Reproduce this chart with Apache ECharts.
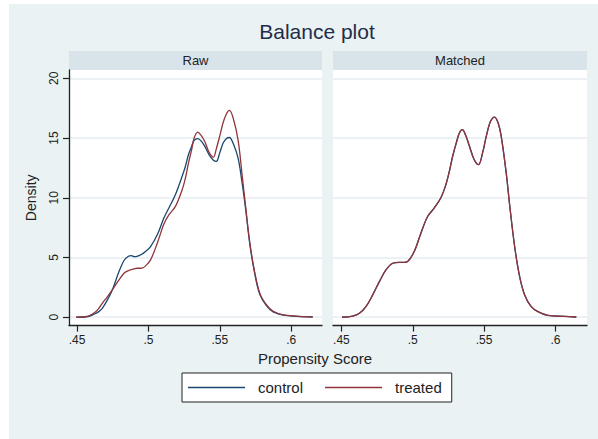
<!DOCTYPE html>
<html>
<head>
<meta charset="utf-8">
<script src="https://cdn.jsdelivr.net/npm/echarts@6/dist/echarts.min.js"></script>
<style>html,body{margin:0;padding:0;background:#fff}#c{width:598px;height:439px}</style>
</head>
<body>
<div id="c"></div>
<script>
// ---- data ----
const panelNames = ['Raw', 'Matched'];
const seriesNames = ['control', 'treated'];
const xTicks = [0.45, 0.5, 0.55, 0.6];
const xTickLabels = ['.45', '.5', '.55', '.6'];
const yTicks = [0, 5, 10, 15, 20];

const rawX = [0.4495,0.4550,0.4584,0.4619,0.4650,0.4677,0.4715,0.4747,0.4794,0.4829,0.4860,0.4880,0.4900,0.4920,0.4950,0.4980,0.5015,0.5062,0.5108,0.5143,0.5190,0.5236,0.5258,0.5280,0.5302,0.5320,0.5345,0.5370,0.5395,0.5425,0.5455,0.5475,0.5500,0.5523,0.5545,0.5567,0.5595,0.5628,0.5655,0.5680,0.5710,0.5745,0.5780,0.5827,0.5873,0.5943,0.6036,0.6150];
const rawControl = [0,0.02,0.08,0.25,0.45,0.75,1.5,2.29,3.82,4.75,5.1,5.16,5.08,5.1,5.25,5.5,5.92,6.9,8.3,9.14,10.3,11.8,12.6,13.6,14.3,14.8,14.95,14.75,14.3,13.6,13.15,13.05,13.8,14.58,14.95,15.05,14.5,13.3,11.3,9.1,6.1,3.6,1.9,0.95,0.45,0.18,0.08,0.02];
const rawTreated = [0,0.04,0.12,0.35,0.7,1.17,1.75,2.29,3.13,3.69,3.9,3.98,4.05,4.1,4.1,4.3,4.8,6.2,7.8,8.57,9.3,10.67,11.6,12.9,14.0,15.0,15.5,15.2,14.7,13.8,13.4,14.1,15.2,16.3,17.0,17.32,16.6,14.8,12.0,9.3,6.2,3.7,2.0,1.03,0.5,0.2,0.1,0.03];

const matchedX = [0.4504,0.4579,0.4626,0.4672,0.4719,0.4766,0.4812,0.4859,0.4906,0.4940,0.4964,0.5010,0.5057,0.5104,0.5150,0.5197,0.5232,0.5258,0.5280,0.5305,0.5326,0.5347,0.5372,0.5398,0.5430,0.5461,0.5490,0.5515,0.5545,0.5574,0.5600,0.5620,0.5655,0.5679,0.5714,0.5749,0.5784,0.5830,0.5877,0.5947,0.6064,0.6146];
const matchedControl = [0,0.1,0.33,0.89,1.87,2.98,3.96,4.52,4.6,4.6,4.66,5.5,7.04,8.43,9.14,10.0,11.1,12.3,13.5,14.6,15.4,15.7,15.2,14.3,13.2,12.77,13.8,15.14,16.4,16.76,16.2,15.14,12.07,9.4,5.92,3.4,1.87,0.89,0.47,0.15,0.07,0.02];
const matchedTreated = [0,0.1,0.33,0.89,1.87,2.98,3.96,4.52,4.6,4.6,4.66,5.5,7.04,8.43,9.14,10.0,11.1,12.3,13.5,14.6,15.4,15.7,15.2,14.3,13.2,12.77,13.8,15.14,16.4,16.76,16.2,15.14,12.07,9.4,5.92,3.4,1.87,0.89,0.47,0.15,0.07,0.02];

// ---- styling ----
const FONT = '"Liberation Sans", Arial, sans-serif';
const BG = '#eaf2f3';
const STRIP = '#d8e4ea';
const GRIDC = '#e4edf0';
const colors = ['#1a476f', '#90353b'];

const zip = (xs, ys) => xs.map((x, i) => [x, ys[i]]);

const grids = [
  {left: 69, right: 276, top: 70, bottom: 113.4},
  {left: 333, right: 11, top: 70, bottom: 113.4}
];

const xRanges = [[0.4444, 0.6215], [0.4441, 0.6221]];

function xAxis(i) {
  return {
    type: 'value', gridIndex: i, min: xRanges[i][0], max: xRanges[i][1],
    axisLine: {show: true, onZero: false, lineStyle: {color: '#222', width: 1.3}},
    axisTick: {show: true, length: 6, customValues: xTicks, lineStyle: {color: '#222', width: 1.2}},
    axisLabel: {customValues: xTicks, margin: 8, color: '#222', fontSize: 12, fontFamily: FONT,
      formatter: v => xTickLabels[xTicks.findIndex(t => Math.abs(t - v) < 1e-9)] || ''},
    splitLine: {show: false}
  };
}
function yAxis(i) {
  return {
    type: 'value', gridIndex: i, min: -0.7, max: 20.7,
    name: i === 0 ? 'Density' : '', nameLocation: 'middle', nameGap: 31, nameRotate: 90,
    nameTextStyle: {color: '#222', fontSize: 14, fontFamily: FONT},
    axisLine: {show: i === 0, onZero: false, lineStyle: {color: '#222', width: 1.3}},
    axisTick: {show: i === 0, length: 6, customValues: yTicks, lineStyle: {color: '#222', width: 1.2}},
    axisLabel: {show: i === 0, customValues: yTicks, rotate: 90, margin: 9, color: '#222', fontSize: 12, fontFamily: FONT},
    splitLine: {show: true, lineStyle: {color: GRIDC, width: 1.5}}
  };
}

const panelData = [[rawX, rawControl, rawTreated], [matchedX, matchedControl, matchedTreated]];
const series = [];
panelData.forEach((p, i) => {
  [p[1], p[2]].forEach((ys, k) => {
    series.push({
      name: seriesNames[k], type: 'line', xAxisIndex: i, yAxisIndex: i,
      data: zip(p[0], ys), smooth: 0.35, showSymbol: false, symbol: 'none',
      lineStyle: {color: colors[k], width: 1.3}, itemStyle: {color: colors[k]},
      z: 2 + k, silent: true, animation: false
    });
  });
});

const chart = echarts.init(document.getElementById('c'), null, {renderer: 'svg'});
chart.setOption({
  backgroundColor: '#ffffff',
  animation: false,
  title: [
    {text: 'Balance plot', left: 312, top: 16, textAlign: 'center',
     textStyle: {color: '#1f2d4a', fontSize: 21, fontWeight: 'normal', fontFamily: FONT}},
    {text: 'Propensity Score', left: 315, top: 351, textAlign: 'center', padding: 0,
     textStyle: {color: '#222', fontSize: 15, fontWeight: 'normal', fontFamily: FONT}}
  ],
  graphic: [
    {type: 'rect', z: -10, silent: true, shape: {x: 9, y: 4, width: 589, height: 435}, style: {fill: BG}},
    {type: 'rect', z: -5, silent: true, shape: {x: 69, y: 51, width: 253, height: 19}, style: {fill: STRIP}},
    {type: 'rect', z: -5, silent: true, shape: {x: 333, y: 51, width: 254, height: 19}, style: {fill: STRIP}},
    {type: 'text', silent: true, x: 195.5, y: 60.5, style: {text: panelNames[0], fill: '#222', font: '13px ' + FONT, textAlign: 'center', textVerticalAlign: 'middle'}},
    {type: 'text', silent: true, x: 460, y: 60.5, style: {text: panelNames[1], fill: '#222', font: '13px ' + FONT, textAlign: 'center', textVerticalAlign: 'middle'}}
  ],
  grid: grids.map(g => Object.assign({show: true, backgroundColor: '#ffffff', borderWidth: 0}, g)),
  xAxis: [xAxis(0), xAxis(1)],
  yAxis: [yAxis(0), yAxis(1)],
  legend: {
    data: seriesNames, left: 182, top: 373, orient: 'horizontal',
    backgroundColor: '#ffffff', borderColor: '#222', borderWidth: 1, borderRadius: 0,
    padding: [7, 10, 7, 6], itemGap: 22, itemWidth: 57, itemHeight: 1.4, icon: 'rect',
    selectedMode: false,
    textStyle: {color: '#222', fontSize: 15, fontFamily: FONT, padding: [0, 0, 0, 8]}
  },
  series: series
});
</script>
</body>
</html>
